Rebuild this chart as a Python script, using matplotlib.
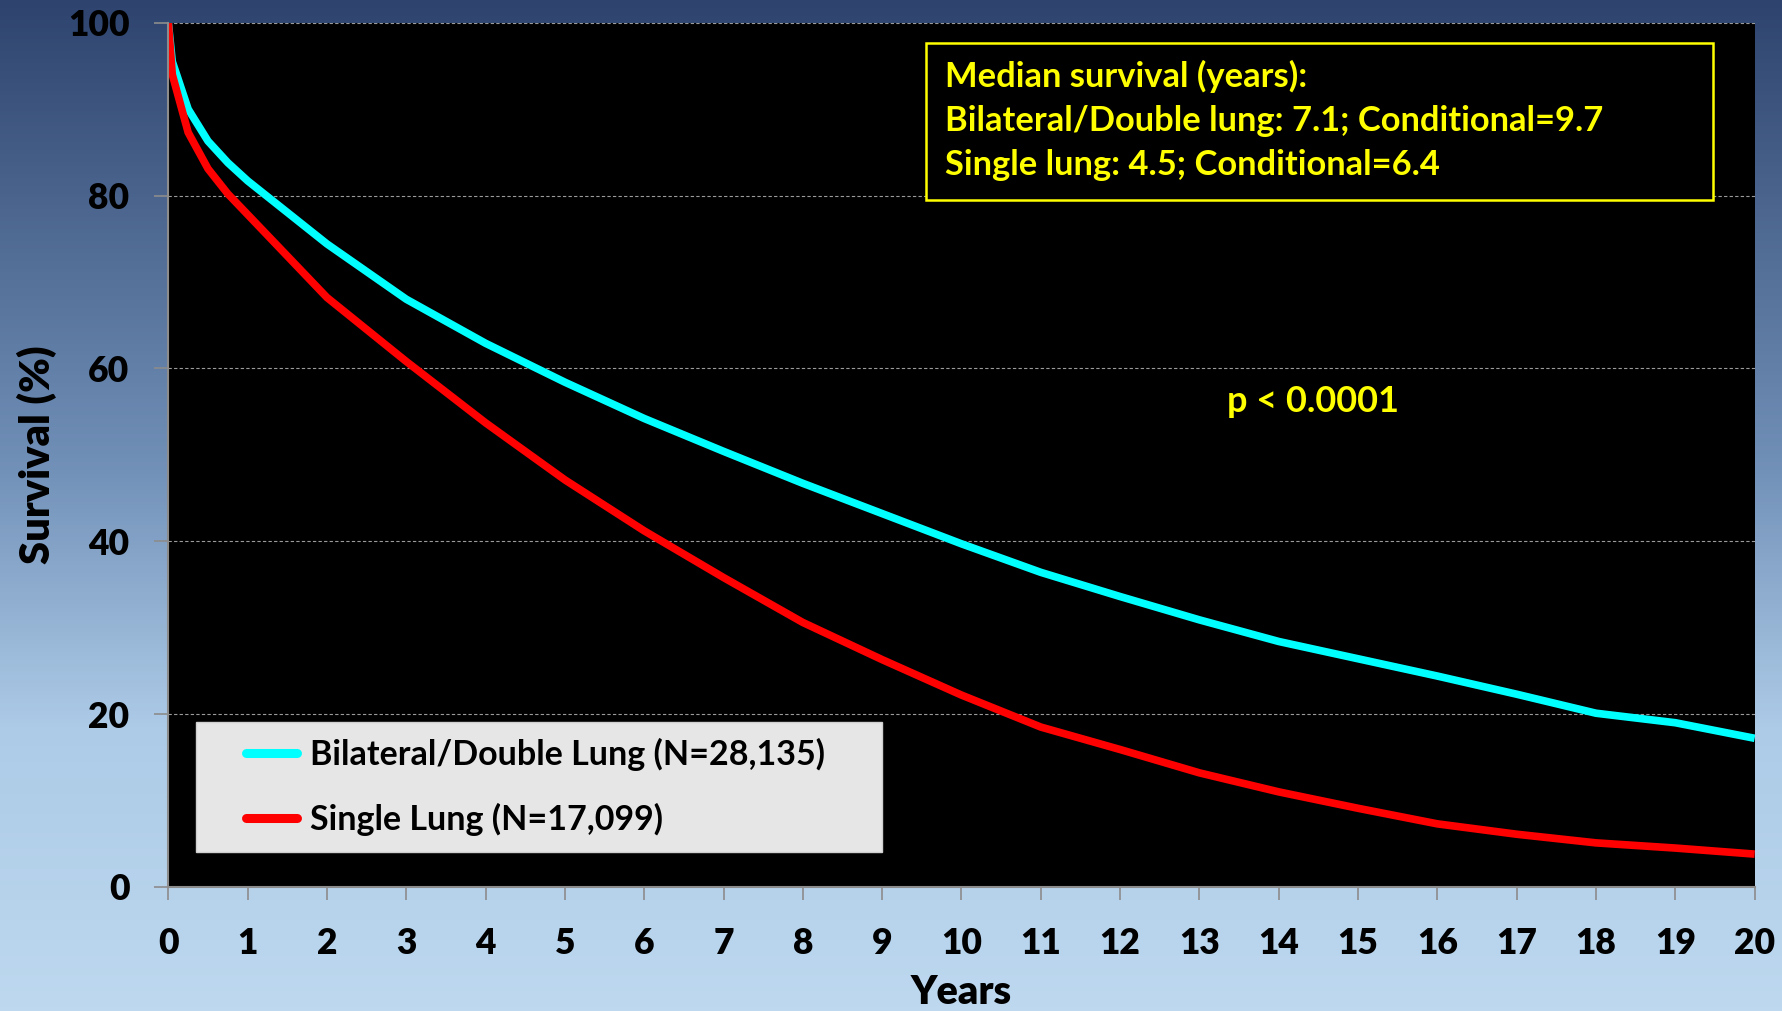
import numpy as np
import matplotlib
matplotlib.use("agg")
from matplotlib import pyplot as plt
from matplotlib.colors import LinearSegmentedColormap
from matplotlib.patches import Rectangle

# survival data (years, % surviving)
years = [0, 0.05, 0.25, 0.5, 0.75, 1, 2, 3, 4, 5, 6, 7, 8, 9, 10,
         11, 12, 13, 14, 15, 16, 17, 18, 19, 20]
bilateral = [100, 95.5, 90.0, 86.3, 83.8, 81.7, 74.4, 68.0, 62.9, 58.4,
             54.2, 50.4, 46.7, 43.2, 39.7, 36.4, 33.6, 30.9, 28.4, 26.4,
             24.4, 22.3, 20.1, 19.0, 17.2]
single = [100, 94.0, 87.3, 83.1, 80.2, 77.8, 68.2, 60.8, 53.7, 47.1,
          41.2, 35.8, 30.6, 26.3, 22.2, 18.5, 15.9, 13.2, 11.0, 9.1,
          7.3, 6.1, 5.1, 4.5, 3.8]
series_labels = ["Bilateral/Double Lung (N=28,135)", "Single Lung (N=17,099)"]
median_lines = ["Median survival (years):",
                "Bilateral/Double lung: 7.1; Conditional=9.7",
                "Single lung: 4.5; Conditional=6.4"]
p_text = "p < 0.0001"
xticks = list(range(0, 21))
yticks = [0, 20, 40, 60, 80, 100]

plt.rcParams["font.family"] = ["Lato", "DejaVu Sans"]
plt.rcParams["font.weight"] = "bold"

fig = plt.figure(figsize=(17.83, 10.11), dpi=100)

# gradient background
bg = fig.add_axes([0, 0, 1, 1], zorder=-10)
cmap = LinearSegmentedColormap.from_list(
    "slide", [(0.0, "#2e446e"), (0.45, "#6f8eb6"), (0.72, "#adcbe7"), (1.0, "#bdd8ef")])
bg.imshow(np.linspace(0, 1, 256).reshape(-1, 1), aspect="auto", cmap=cmap,
          extent=[0, 1, 0, 1], origin="upper")
bg.axis("off")

ax = fig.add_axes([0.0944, 0.1227, 0.8897, 0.8549])
ax.set_facecolor("black")
ax.plot(years, bilateral, color="#00ffff", lw=5.5, label=series_labels[0],
        solid_capstyle="butt", solid_joinstyle="round")
ax.plot(years, single, color="#ff0000", lw=5.5, label=series_labels[1],
        solid_capstyle="butt", solid_joinstyle="round")

ax.set_xlim(0, 20)
ax.set_ylim(0, 100)
ax.set_xticks(xticks)
ax.set_yticks(yticks)
ax.tick_params(axis="y", length=10, width=1.2, color="#8c8c8c", pad=18, labelsize=25.5)
ax.tick_params(axis="x", length=9, width=1.2, color="#8c8c8c", pad=20, labelsize=25.5)
for lab in ax.get_xticklabels() + ax.get_yticklabels():
    lab.set_fontweight("heavy")
for side in ["top", "right"]:
    ax.spines[side].set_visible(False)
for side in ["left", "bottom"]:
    ax.spines[side].set_color("#8c8c8c")
    ax.spines[side].set_linewidth(1.5)
ax.grid(axis="y", color="#9a9a9a", lw=0.8, ls=(0, (3, 2)))
ax.set_axisbelow(True)

ax.set_xlabel("Years", fontsize=28.5, fontweight="heavy", labelpad=10)
ax.set_ylabel("Survival (%)", fontsize=30, fontweight="heavy", labelpad=8)

# legend with grey panel
ax.add_patch(Rectangle((0.0172, 0.0408), 0.433, 0.150, transform=ax.transAxes,
                       facecolor="#e6e6e6", edgecolor="#d0d0d0", lw=1, zorder=4))
leg = ax.legend(loc="center left", bbox_to_anchor=(0.0487, 0.1157), frameon=False,
                fontsize=24.5, handlelength=1.5, handletextpad=0.4, labelspacing=0.95,
                borderpad=0, borderaxespad=0)
leg.set_zorder(5)
for h in leg.get_lines():
    h.set_linewidth(6.5)
    h.set_solid_capstyle("round")
for t in leg.get_texts():
    t.set_color("black")
    t.set_fontweight("bold")

# median survival box
ax.add_patch(Rectangle((0.4775, 0.7947), 0.4961, 0.1816, transform=ax.transAxes,
                       facecolor="black", edgecolor="#ffff00", lw=1.8, zorder=4))
for i, line in enumerate(median_lines):
    ax.text(0.4895, 0.9375 - i * 0.051, line, transform=ax.transAxes, color="#ffff00",
            fontsize=24.8, fontweight="bold", va="center", ha="left", zorder=5)

ax.text(14.43, 56.2, p_text, color="#ffff00", fontsize=26, fontweight="bold",
        ha="center", va="center")

fig.savefig("out.png", dpi=100)
